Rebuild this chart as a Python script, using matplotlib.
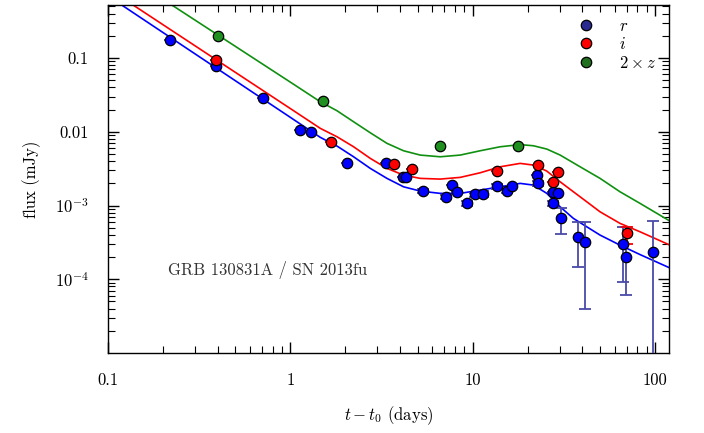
import numpy as np
import matplotlib
matplotlib.use('Agg')
import matplotlib.pyplot as plt
from matplotlib.lines import Line2D
from matplotlib.ticker import FixedLocator, LogLocator, NullFormatter

plt.rcParams['font.family'] = 'cmr10'
plt.rcParams['mathtext.fontset'] = 'cm'
plt.rcParams['axes.unicode_minus'] = False
plt.rcParams['axes.formatter.use_mathtext'] = True

# r band photometry (days, mJy) with lower/upper bounds
r_t = [0.220, 0.393, 0.705, 1.134, 1.303, 2.053, 3.345, 4.146, 4.321, 5.307,
       7.158, 7.691, 8.192, 9.365, 10.36, 11.37, 13.57, 15.40, 16.52, 22.48,
       22.94, 27.51, 29.52, 27.72, 30.54, 37.71, 41.35, 67.04, 69.36, 97.9]
r_f = [0.175, 0.0786, 0.0284, 0.0105, 0.0100, 0.00372, 0.00372, 0.00245, 0.00245, 0.00157,
       0.00131, 0.00189, 0.00151, 0.00107, 0.00141, 0.00143, 0.00183, 0.00157, 0.00183, 0.00259,
       0.00201, 0.00151, 0.00149, 0.00107, 0.00068, 0.00037, 0.00032, 0.00030, 0.00020, 0.000235]
r_lo = [0.175, 0.0786, 0.0284, 0.0105, 0.0100, 0.00372, 0.00372, 0.00245, 0.00245, 0.00146,
        0.00123, 0.00189, 0.00151, 0.00100, 0.00132, 0.00131, 0.00168, 0.00149, 0.00183, 0.00259,
        0.00185, 0.00151, 0.00149, 0.00098, 0.000409, 0.000147, 0.0000393, 0.0000922, 0.0000609, 1e-7]
r_hi = [0.175, 0.0786, 0.0284, 0.0105, 0.0100, 0.00372, 0.00372, 0.00245, 0.00245, 0.00168,
        0.00139, 0.00189, 0.00151, 0.00114, 0.00150, 0.00155, 0.00198, 0.00165, 0.00183, 0.00259,
        0.00217, 0.00151, 0.00149, 0.00116, 0.000930, 0.000601, 0.000601, 0.000504, 0.000504, 0.00062]

# i band
i_t = [0.393, 1.671, 3.714, 4.662, 13.62, 22.94, 27.72, 29.30, 69.97]
i_f = [0.0931, 0.00732, 0.00361, 0.00309, 0.00293, 0.00350, 0.00210, 0.00281, 0.000426]
i_lo = [0.0931, 0.00732, 0.00361, 0.00309, 0.00293, 0.00350, 0.00210, 0.00281, 0.000297]
i_hi = [0.0931, 0.00732, 0.00361, 0.00309, 0.00293, 0.00350, 0.00210, 0.00281, 0.000514]

# 2 x z band
z_t = [0.402, 1.51, 6.636, 17.76]
z_f = [0.197, 0.0261, 0.00646, 0.00646]

# model curves
m_t = [0.1, 1.0, 1.460, 1.803, 2.223, 2.744, 3.388, 4.177, 5.157, 6.636, 8.541,
       10.99, 14.15, 18.21, 21.54, 25.50, 30.17, 35.68, 42.25, 49.95, 64.29, 82.76, 120.8]
mr_f = [0.696, 0.01568, 0.008395, 0.006397, 0.004578, 0.003187, 0.002332, 0.001793, 0.001569,
        0.001460, 0.001460, 0.001618, 0.001793, 0.001995, 0.001891, 0.001460, 0.000960, 0.000668,
        0.000514, 0.000397, 0.000290, 0.000216, 0.000142]
mi_f = [0.877, 0.02064, 0.01112, 0.00855, 0.006259, 0.004356, 0.003187, 0.002585, 0.002332,
        0.002282, 0.002406, 0.002778, 0.003350, 0.003725, 0.003533, 0.002929, 0.002097, 0.001534,
        0.001122, 0.000821, 0.000572, 0.000440, 0.000290]
mz_t = [0.1, 1.0, 1.460, 1.803, 2.223, 2.744, 3.388, 4.177, 5.157, 6.636, 8.541,
        10.99, 14.15, 18.21, 21.54, 25.50, 30.17, 38.82, 49.95, 64.29, 82.76, 120.8]
mz_f = [1.915, 0.04710, 0.02553, 0.01927, 0.01366, 0.00969, 0.006963, 0.005525, 0.004829,
        0.004578, 0.004829, 0.005525, 0.006259, 0.006700, 0.006457, 0.005824, 0.004829, 0.003350,
        0.002332, 0.001534, 0.001068, 0.000614]

fig = plt.figure(figsize=(7.04, 4.33), dpi=100)
ax = fig.add_axes([0.1534, 0.1848, 0.7969, 0.8037])

ax.plot(m_t, mr_f, color='#0000ff', lw=1.2, zorder=2)
ax.plot(m_t, mi_f, color='#ff0000', lw=1.2, zorder=2)
ax.plot(mz_t, mz_f, color='#109010', lw=1.2, zorder=2)

r_f = np.array(r_f)
i_f = np.array(i_f)
r_err = [r_f - np.array(r_lo), np.array(r_hi) - r_f]
i_err = [i_f - np.array(i_lo), np.array(i_hi) - i_f]

ax.errorbar(r_t, r_f, yerr=r_err, fmt='none', ecolor='#4a4aa8', elinewidth=1.3,
            capsize=4, capthick=1.3, zorder=3)
ax.errorbar(i_t, i_f, yerr=i_err, fmt='none', ecolor='#ff0000', elinewidth=1.3,
            capsize=4, capthick=1.3, zorder=3)
ax.plot(r_t, r_f, 'o', ms=7.5, mfc='#0000ff', mec='black', mew=0.9, zorder=4)
ax.plot(i_t, i_f, 'o', ms=7.5, mfc='#ff0000', mec='black', mew=0.9, zorder=5)
ax.plot(z_t, z_f, 'o', ms=7.5, mfc='#1f8f1f', mec='black', mew=0.9, zorder=6)

ax.set_xscale('log')
ax.set_yscale('log')
ax.set_xlim(0.1, 119.3)
ax.set_ylim(1e-5, 0.524)

ax.xaxis.set_major_locator(FixedLocator([0.1, 1, 10, 100]))
ax.set_xticklabels(['0.1', '1', '10', '100'])
ax.yaxis.set_major_locator(FixedLocator([1e-4, 1e-3, 1e-2, 1e-1]))
ax.set_yticklabels([r'$10^{-4}$', r'$10^{-3}$', '0.01', '0.1'])
ax.xaxis.set_minor_locator(LogLocator(base=10, subs=np.arange(2, 10)))
ax.yaxis.set_minor_locator(LogLocator(base=10, subs=np.arange(2, 10)))
ax.xaxis.set_minor_formatter(NullFormatter())
ax.yaxis.set_minor_formatter(NullFormatter())
ax.tick_params(which='both', direction='in', top=True, right=True, labelsize=12)
ax.tick_params(which='major', length=8, width=1, pad=14)
ax.tick_params(which='minor', length=5, width=0.8)
for s in ax.spines.values():
    s.set_linewidth(1.0)

ax.set_xlabel(r'$t - t_0$ (days)', fontsize=12, labelpad=12)
ax.set_ylabel('flux (mJy)', fontsize=12, labelpad=10)

ax.text(0.107, 0.238, 'GRB 130831A / SN 2013fu', transform=ax.transAxes,
        fontsize=12, va='center', ha='left', color='#333333')

handles = [Line2D([], [], ls='none', marker='o', ms=7.5, mfc='#2a2a90', mec='black', mew=0.9),
           Line2D([], [], ls='none', marker='o', ms=7.5, mfc='#ff0000', mec='black', mew=0.9),
           Line2D([], [], ls='none', marker='o', ms=7.5, mfc='#1f6f1f', mec='black', mew=0.9)]
ax.legend(handles, [r'$r$', r'$i$', r'$2\times z$'], loc='upper right', frameon=False,
          fontsize=12, handletextpad=0.95, labelspacing=0.15, borderaxespad=0.4)

fig.savefig('out.png', dpi=100)
